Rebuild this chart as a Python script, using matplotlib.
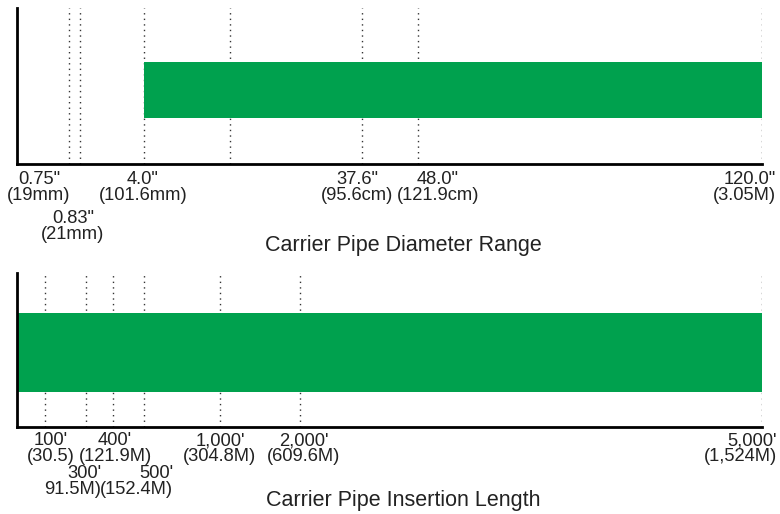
import numpy as np
import matplotlib
matplotlib.use("Agg")
import matplotlib.pyplot as plt

plt.rcParams['font.family'] = ['Liberation Sans', 'DejaVu Sans']

# Carrier pipe diameter (inches) - marked values and labels
diam_values = [0.75, 0.83, 4.0, 12.0, 37.6, 48.0, 120.0]
diam_labels = ['0.75"\n(19mm)', '0.83"\n(21mm)', '4.0"\n(101.6mm)', '',
               '37.6"\n(95.6cm)', '48.0"\n(121.9cm)', '120.0"\n(3.05M)']
diam_range = (4.0, 120.0)

# Carrier pipe insertion length (feet)
length_values = [100, 300, 400, 500, 1000, 2000, 5000]
length_labels = ["100'\n(30.5)", "300'\n91.5M)", "400'\n(121.9M)", "500'\n(152.4M)",
                 "1,000'\n(304.8M)", "2,000'\n(609.6M)", "5,000'\n(1,524M)"]
length_range = (0, 5000)

# schematic (non-linear) axis layout, in pixels along the axis
diam_anchor = [0, 0.75, 0.83, 4.0, 12.0, 37.6, 48.0, 120.0]
diam_px = [17, 69, 80, 144, 230, 362, 418, 762]
length_anchor = [0, 100, 300, 400, 500, 1000, 2000, 5000]
length_px = [17, 45, 86, 113, 144, 220, 300, 762]

# label placement: (dx pixels, row, ha)
diam_lab_style = [(-30, 0, 'center'), (-7, 1, 'center'), (-1, 0, 'center'), (0, 0, 'center'),
                  (-5, 0, 'center'), (20, 0, 'center'), (14, 0, 'right')]
length_lab_style = [(6, 0, 'center'), (15, 1, 'right'), (2, 0, 'center'), (29, 1, 'right'),
                    (0, 0, 'center'), (4, 0, 'center'), (15, 0, 'right')]

W, H = 780, 514
GREEN = '#00a14e'
TXT = '#222222'


def piecewise_scale(anchor, px):
    fwd = lambda x: np.interp(x, anchor, px)
    inv = lambda y: np.interp(y, px, anchor)
    return fwd, inv


def panel(fig, top, bottom, anchor, px, values, labels, styles, rng, bar_y, bar_h,
          row_y, title, title_y):
    ax = fig.add_axes([17 / W, 1 - bottom / H, (762 - 17) / W, (bottom - top) / H])
    ax.set_xscale('function', functions=piecewise_scale(anchor, px))
    ax.set_xlim(anchor[0], anchor[-1])
    ax.set_ylim(0, 1)
    for v in values:
        ax.axvline(v, color='#333333', lw=1.0, linestyle=(0, (1, 3)), zorder=1)
    ax.barh(bar_y, rng[1] - rng[0], left=rng[0], height=bar_h, color=GREEN, zorder=2)
    for s in ['top', 'right']:
        ax.spines[s].set_visible(False)
    for s in ['left', 'bottom']:
        ax.spines[s].set_linewidth(2)
        ax.spines[s].set_color('black')
        ax.spines[s].set_zorder(3)
    ax.set_xticks([])
    ax.set_yticks([])
    for v, lab, (dx, row, ha) in zip(values, labels, styles):
        if not lab:
            continue
        ax.annotate(lab, xy=(v, 0), xycoords=('data', 'axes fraction'),
                    xytext=(dx, -(row_y[row] - bottom)), textcoords='offset pixels',
                    ha=ha, va='top', multialignment=ha, fontsize=13.2, color=TXT,
                    linespacing=0.92, annotation_clip=False)
    fig.text(403 / W, 1 - title_y / H, title, ha='center', va='baseline',
             fontsize=15.5, color=TXT)
    return ax


fig = plt.figure(figsize=(W / 100, H / 100), dpi=100)

panel(fig, 8, 164, diam_anchor, diam_px, diam_values, diam_labels, diam_lab_style,
      diam_range, 0.474, 0.36, [171, 210], 'Carrier Pipe Diameter Range', 251)
panel(fig, 273, 427, length_anchor, length_px, length_values, length_labels,
      length_lab_style, length_range, 0.484, 0.51, [432, 465],
      'Carrier Pipe Insertion Length', 506)

fig.savefig('out.png', dpi=100, facecolor='white')
